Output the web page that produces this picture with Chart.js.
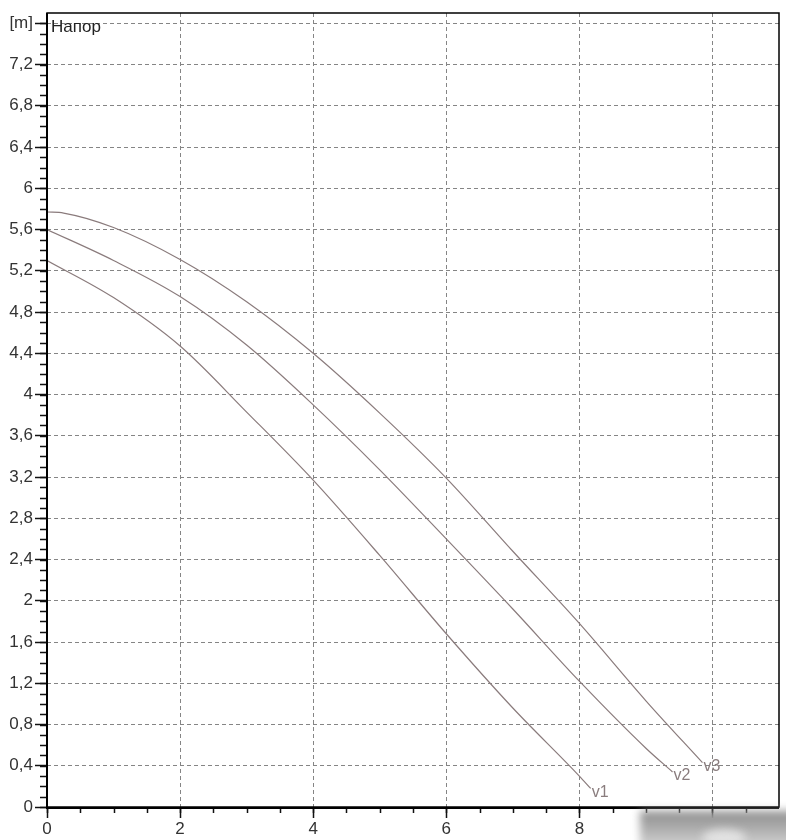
<!DOCTYPE html>
<html>
<head>
<meta charset="utf-8">
<script src="https://cdn.jsdelivr.net/npm/chart.js@4"></script>
<style>
  html, body { margin: 0; padding: 0; background: #fff; }
  #wrap { width: 786px; height: 840px; }
</style>
</head>
<body>
<div id="wrap"><canvas id="chart" width="786" height="840"></canvas></div>
<script>
// Q (flow) / H (head)
const v1Q = [0, 1, 2, 3, 4, 5, 6, 7, 8, 8.17];
const v1H = [5.30, 4.94, 4.47, 3.83, 3.17, 2.44, 1.68, 0.96, 0.30, 0.18];

const v2Q = [0, 1, 2, 3, 4, 5, 6, 7, 8, 9, 9.4];
const v2H = [5.60, 5.30, 4.95, 4.48, 3.90, 3.27, 2.60, 1.92, 1.22, 0.57, 0.34];

const v3Q = [0, 0.25, 1, 2, 3, 4, 5, 6, 7, 8, 9, 9.85];
const v3H = [5.77, 5.76, 5.62, 5.31, 4.90, 4.40, 3.82, 3.19, 2.48, 1.78, 1.03, 0.43];

const seriesNames = ["v1", "v2", "v3"];

const xTicks = [0, 2, 4, 6, 8, 10];
const xLabels = ["0", "2", "4", "6", "8", "10"];
const yTicks = [0, 0.4, 0.8, 1.2, 1.6, 2, 2.4, 2.8, 3.2, 3.6, 4, 4.4, 4.8, 5.2, 5.6, 6, 6.4, 6.8, 7.2, 7.6];
const yLabels = ["0", "0,4", "0,8", "1,2", "1,6", "2", "2,4", "2,8", "3,2", "3,6", "4", "4,4", "4,8",
  "5,2", "5,6", "6", "6,4", "6,8", "7,2", "[m]"];

const LINE_COLOR = "#8a7b7c";
const FONT = "Liberation Sans, Arial, sans-serif";

function toPoints(qs, hs) {
  return qs.map((q, i) => ({ x: q, y: hs[i] }));
}

// minor ticks, plot frame, curve names, "Напор" and the photo shadow
const decoPlugin = {
  id: "deco",
  afterDraw(chart) {
    const ctx = chart.ctx;
    const area = chart.chartArea;
    const xs = chart.scales.x;
    const ys = chart.scales.y;

    ctx.save();
    ctx.strokeStyle = "#111";
    ctx.lineWidth = 1.5;
    ctx.beginPath();
    for (let v = 0; v <= 7.6001; v += 0.1) {
      const y = Math.round(ys.getPixelForValue(v)) + 0.5;
      ctx.moveTo(area.left - 7, y);
      ctx.lineTo(area.left, y);
    }
    for (let v = 0; v <= 10.5001; v += 0.5) {
      const x = Math.round(xs.getPixelForValue(v)) + 0.5;
      ctx.moveTo(x, area.bottom);
      ctx.lineTo(x, area.bottom + 6);
    }
    ctx.stroke();

    // plot frame
    ctx.lineWidth = 1.5;
    ctx.strokeStyle = "#000";
    ctx.strokeRect(area.left, area.top, area.right - area.left, area.bottom - area.top);
    ctx.lineWidth = 2;
    ctx.beginPath();
    ctx.moveTo(area.left, area.top);
    ctx.lineTo(area.left, area.bottom + 1);
    ctx.lineTo(area.right, area.bottom + 1);
    ctx.stroke();

    // axis caption inside plot
    ctx.fillStyle = "#222";
    ctx.font = "17px " + FONT;
    ctx.textAlign = "left";
    ctx.textBaseline = "middle";
    ctx.fillText("Напор", area.left + 4, ys.getPixelForValue(7.6) + 4);

    // curve names at the end of each curve
    ctx.fillStyle = "#8a7d7e";
    ctx.font = "16px " + FONT;
    chart.data.datasets.forEach((ds, i) => {
      const pts = chart.getDatasetMeta(i).data;
      const last = pts[pts.length - 1];
      ctx.fillText(seriesNames[i], last.x + 1, last.y + 4);
    });

    // grey shadow of the photographed sheet, bottom right
    ctx.filter = "blur(4px)";
    const g = ctx.createLinearGradient(0, area.bottom + 2, 0, 845);
    g.addColorStop(0, "#8a8a8a");
    g.addColorStop(0.5, "#ababab");
    g.addColorStop(1, "#cfcfcf");
    ctx.fillStyle = g;
    ctx.fillRect(640, area.bottom + 4, 160, 50);
    ctx.fillStyle = "rgba(232,232,232,0.85)";
    ctx.beginPath();
    ctx.ellipse(724, 838, 22, 9, 0, 0, Math.PI * 2);
    ctx.fill();
    ctx.filter = "none";
    ctx.restore();
  }
};

const ctx = document.getElementById("chart").getContext("2d");
const datasets = [toPoints(v1Q, v1H), toPoints(v2Q, v2H), toPoints(v3Q, v3H)].map((pts, i) => ({
  label: seriesNames[i],
  data: pts,
  borderColor: LINE_COLOR,
  borderWidth: 1.2,
  pointRadius: 0,
  fill: false,
  cubicInterpolationMode: "monotone"
}));

new Chart(ctx, {
  type: "line",
  data: { datasets: datasets },
  options: {
    responsive: false,
    animation: false,
    layout: { padding: { top: 13, right: 7, left: 0, bottom: 0 } },
    plugins: {
      legend: { display: false },
      tooltip: { enabled: false }
    },
    scales: {
      x: {
        type: "linear",
        min: 0,
        max: 11,
        afterBuildTicks: s => { s.ticks = xTicks.map(v => ({ value: v })); },
        afterFit: s => { s.height = 33; },
        ticks: {
          callback: (v, i) => xLabels[i],
          color: "#333",
          font: { family: FONT, size: 17 },
          padding: 1,
          maxRotation: 0,
          autoSkip: false
        },
        grid: {
          color: "#858585",
          lineWidth: 1,
          tickLength: 11,
          tickColor: "#111",
          tickWidth: 1.5
        },
        border: { display: false, dash: [4, 3] }
      },
      y: {
        type: "linear",
        min: 0,
        max: 7.7,
        afterBuildTicks: s => { s.ticks = yTicks.map(v => ({ value: v })); },
        afterFit: s => { s.width = 47; },
        ticks: {
          callback: (v, i) => yLabels[i],
          color: "#333",
          font: { family: FONT, size: 17 },
          padding: 2,
          autoSkip: false
        },
        grid: {
          color: "#858585",
          lineWidth: 1,
          tickLength: 12,
          tickColor: "#111",
          tickWidth: 1.5
        },
        border: { display: false, dash: [4, 3] }
      }
    }
  },
  plugins: [decoPlugin]
});
</script>
</body>
</html>
